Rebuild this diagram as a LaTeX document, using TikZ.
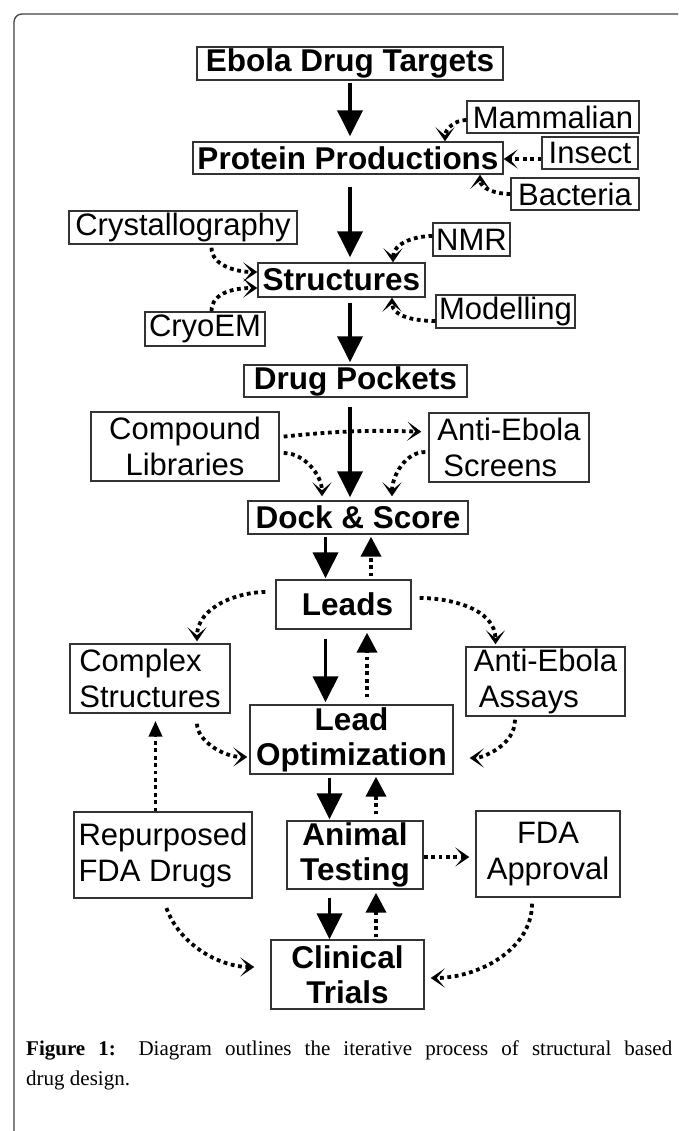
\documentclass[tikz,border=0pt]{standalone}
\usepackage{fontspec}
\newfontfamily\boxfont{Liberation Sans}
\newfontfamily\capfont{Liberation Serif}
\usetikzlibrary{arrows.meta, positioning}

\begin{document}
\begin{tikzpicture}[
    x=1pt, y=1pt,
    box/.style={draw=black!80, line width=1.4pt, inner sep=0pt, font=\boxfont\fontsize{31}{36}\selectfont},
    bbox/.style={box, font=\boxfont\bfseries\fontsize{31.5}{35}\selectfont},
    flow/.style={-{Triangle[length=26pt,width=25pt]}, line width=3.6pt},
    back/.style={-{Triangle[length=20pt,width=20pt]}, line width=3.8pt, dash pattern=on 3.8pt off 3.6pt},
    feed/.style={-{Stealth[length=14pt,width=19pt,inset=8pt]}, line width=3.8pt, dash pattern=on 3.8pt off 3.6pt}
]
\useasboundingbox (0,0) rectangle (678,-1131);
\draw[black!75, line width=1.3pt, rounded corners=8pt] (678,-14) -- (14,-14) -- (14,-1131);

% Main pipeline
\node[bbox, minimum width=306pt, minimum height=33pt] (targets) at (350,-63.5) {Ebola Drug Targets};
\node[bbox, minimum width=310pt, minimum height=32pt] (protein) at (348,-158) {Protein Productions};
\node[bbox, minimum width=167pt, minimum height=34pt] (struct) at (341.5,-280) {Structures};
\node[bbox, minimum width=223pt, minimum height=32pt] (pockets) at (355.5,-381) {Drug Pockets};
\node[bbox, minimum width=220pt, minimum height=33pt] (dock) at (358,-517.5) {Dock \& Score};
\node[bbox, minimum width=135pt, minimum height=49pt] (leads) at (343.5,-604.5) {\hspace*{8pt}Leads};
\node[bbox, minimum width=203pt, minimum height=69pt, align=center] (leadopt) at (351.5,-739.5) {Lead\\Optimization};
\node[bbox, minimum width=136pt, minimum height=68pt, align=center] (animal) at (355,-855) {Animal\\Testing};
\node[bbox, minimum width=153pt, minimum height=69pt, align=center] (clinical) at (347.5,-974.5) {Clinical\\Trials};

% Side inputs
\node[box, minimum width=172pt, minimum height=32pt] (mammal) at (553,-117) {Mammalian};
\node[box, minimum width=96pt, minimum height=32pt] (insect) at (590,-153) {Insect};
\node[box, minimum width=128pt, minimum height=32pt] (bacteria) at (575,-194) {Bacteria};
\node[box, minimum width=228pt, minimum height=33pt] (crystal) at (183,-227.5) {Crystallography};
\node[box, minimum width=77pt, minimum height=33pt] (nmr) at (471.5,-239.5) {NMR};
\node[box, minimum width=139pt, minimum height=33pt] (model) at (505.5,-311.5) {Modelling};
\node[box, minimum width=120pt, minimum height=34pt] (cryo) at (205,-329) {CryoEM};
\node[box, minimum width=188pt, minimum height=69pt, align=center] (compound) at (185,-446.5) {Compound\\Libraries};
\node[box, minimum width=160pt, minimum height=69pt, align=left] (screens) at (509,-447.5) {Anti-Ebola\\\hspace*{6pt}Screens};
\node[box, minimum width=160pt, minimum height=69pt, align=left] (complex) at (150,-678.5) {Complex\\Structures};
\node[box, minimum width=159pt, minimum height=69pt, align=left] (assays) at (545.5,-681.5) {Anti-Ebola\\\hspace*{5pt}Assays};
\node[box, minimum width=178pt, minimum height=86pt, align=left] (repurp) at (163,-855) {Repurposed\\FDA Drugs};
\node[box, minimum width=144pt, minimum height=86pt, align=center] (fda) at (548,-854) {FDA\\Approval};

% Caption
\node[anchor=north west, text width=646pt, align=justify, inner sep=0pt, font=\capfont\fontsize{21}{29.5}\selectfont] (caption) at (26,-1041) {\textbf{Figure 1:} Diagram outlines the iterative process of structural based\linebreak drug design.};

% Main flow
\draw[flow, shorten <=2pt, shorten >=5pt] (targets.south) -- (targets.south |- protein.north);
\draw[flow, shorten <=12pt, shorten >=5pt] ([xshift=2pt]protein.south) -- ([xshift=2pt]protein.south |- struct.north);
\draw[flow, shorten <=5pt, shorten >=2pt] ([xshift=8.5pt]struct.south) -- ([xshift=8.5pt]struct.south |- pockets.north);
\draw[flow, shorten <=9pt, shorten >=3pt] ([xshift=-5.5pt]pockets.south) -- ([xshift=-5.5pt]pockets.south |- dock.north);
\draw[flow, shorten <=2pt, shorten >=1pt] ([xshift=-32.5pt]dock.south) -- ([xshift=-32.5pt]dock.south |- leads.north);
\draw[flow, shorten <=9pt, shorten >=2pt] ([xshift=-18pt]leads.south) -- ([xshift=-18pt]leads.south |- leadopt.north);
\draw[flow, shorten <=3pt, shorten >=1pt] ([xshift=-22pt]leadopt.south) -- ([xshift=-22pt]leadopt.south |- animal.north);
\draw[flow, shorten <=8pt] ([xshift=-25.5pt]animal.south) -- ([xshift=-25.5pt]animal.south |- clinical.north);

% Feedback
\draw[back, shorten <=3pt, shorten >=2pt] ([xshift=27.5pt]leads.north) -- ([xshift=27.5pt]leads.north |- dock.south);
\draw[back, shorten <=7pt, shorten >=3pt] ([xshift=15.5pt]leadopt.north) -- ([xshift=15.5pt]leadopt.north |- leads.south);
\draw[back, shorten <=6pt, shorten >=2pt] ([xshift=21pt]animal.north) -- ([xshift=21pt]animal.north |- leadopt.south);
\draw[back, shorten <=2pt, shorten >=3pt] ([xshift=28.5pt]clinical.north) -- ([xshift=28.5pt]clinical.north |- animal.south);
\draw[back, -{Triangle[length=16pt,width=13pt]}, shorten >=7pt] ([xshift=-7.5pt]repurp.north) -- ([xshift=-7.5pt]repurp.north |- complex.south);

% Inputs
\draw[feed] ([yshift=-3pt]mammal.west) to[out=180,in=90] ([xshift=97pt]protein.north);
\draw[feed] ([yshift=-6pt]insect.west) -- ([yshift=-6pt]insect.west -| protein.east);
\draw[feed] (bacteria.west) to[out=180,in=-90] ([xshift=132pt]protein.south);
\draw[feed, shorten <=3pt] ([xshift=28.5pt]crystal.south) to[out=-90,in=180] ([yshift=8pt]struct.west);
\draw[feed] ([xshift=6.5pt]cryo.north) to[out=90,in=180] ([yshift=-8pt]struct.west);
\draw[feed] ([yshift=3.5pt]nmr.west) to[out=180,in=90] ([xshift=51.5pt]struct.north);
\draw[feed] ([yshift=-9.5pt]model.west) to[out=180,in=-90] ([xshift=50.5pt]struct.south);
\draw[feed, shorten <=4pt, shorten >=7pt] ([yshift=9.5pt]compound.east) to[bend left=4] ([yshift=15.5pt]screens.west);
\draw[feed, shorten <=4pt, shorten >=4pt] ([yshift=-6.5pt]compound.east) to[out=0,in=90] ([xshift=-36pt]dock.north);
\draw[feed, shorten <=3pt, shorten >=4pt] ([yshift=-4.5pt]screens.west) to[out=180,in=90] ([xshift=34pt]dock.north);
\draw[feed, shorten <=10pt, shorten >=2pt] ([yshift=12.5pt]leads.west) to[out=180,in=90] ([xshift=47pt]complex.north);
\draw[feed, shorten <=8pt, shorten >=2pt] ([yshift=6.5pt]leads.east) to[out=0,in=90] ([xshift=-50pt]assays.north);
\draw[feed, shorten <=10pt, shorten >=2pt] ([xshift=47pt]complex.south) to[out=-90,in=180] ([yshift=-17.5pt]leadopt.west);
\draw[feed, shorten <=3pt, shorten >=16pt] ([xshift=-30.5pt]assays.south) to[out=-90,in=0] ([yshift=-18.5pt]leadopt.east);
\draw[feed, shorten >=6pt] ([yshift=-2pt]animal.east) -- ([yshift=-2pt]animal.east -| fda.west);
\draw[feed, shorten <=10pt, shorten >=16pt] (repurp.south) to[out=-70,in=180] ([yshift=7.5pt]clinical.west);
\draw[feed, shorten <=6pt, shorten >=6pt] ([xshift=-16pt]fda.south) to[out=-90,in=0] ([yshift=-3.5pt]clinical.east);

\end{tikzpicture}
\end{document}
